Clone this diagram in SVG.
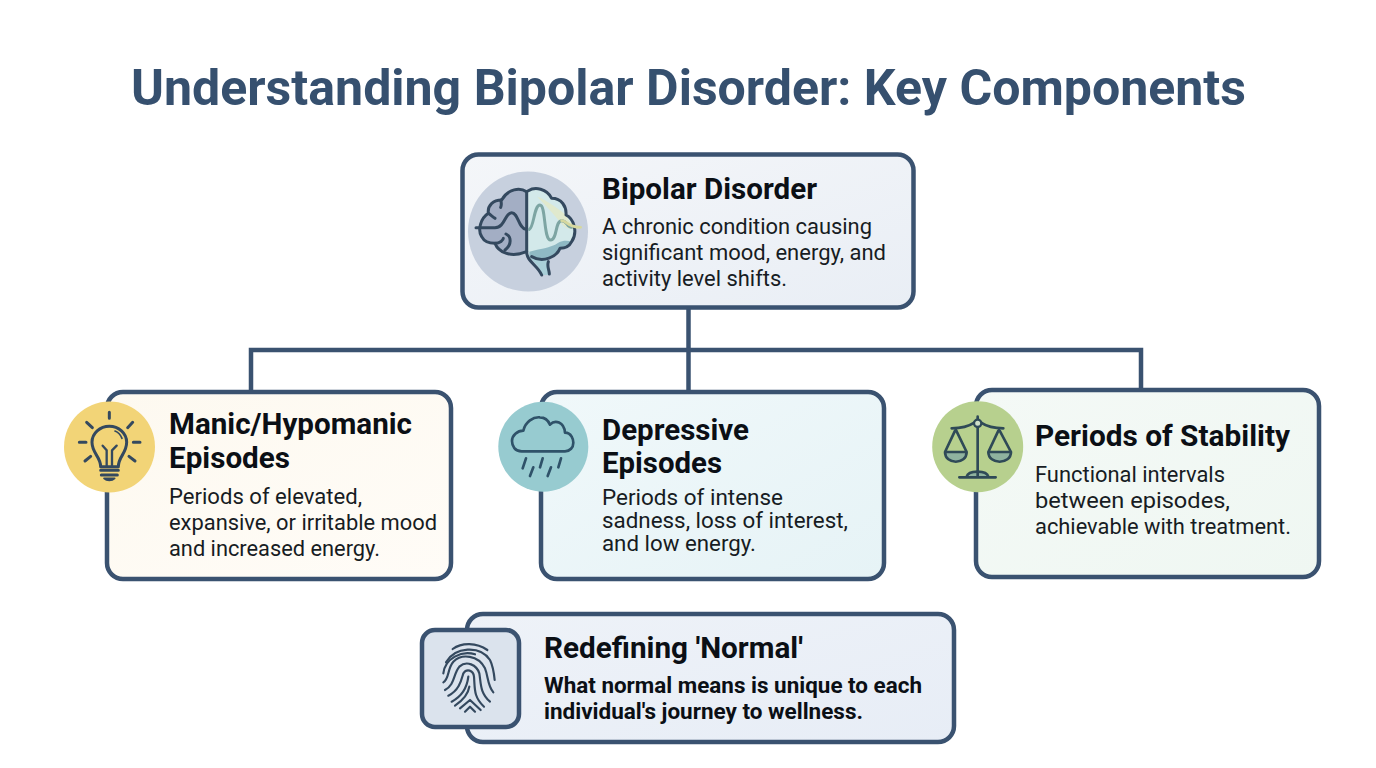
<svg xmlns="http://www.w3.org/2000/svg" width="1376" height="768" viewBox="0 0 1376 768">
<style>
text{font-family:Roboto,"Liberation Sans",sans-serif;fill:#10151c}
.title{font-size:50px;font-weight:700;fill:#36506f}
.h{font-size:30px;font-weight:700;fill:#0b0f15}
.b{font-size:22px;fill:#171c23}
.bb{font-size:22px;font-weight:700;fill:#0b0f15}
.box{stroke:#3a5270;stroke-width:4.5}
.ic{fill:none;stroke:#34495f;stroke-width:9;stroke-linecap:round;stroke-linejoin:round}
.ict{fill:none;stroke:#2f5269;stroke-width:8;stroke-linecap:round;stroke-linejoin:round}
.ics{fill:none;stroke:#2f4a57;stroke-width:8;stroke-linecap:round;stroke-linejoin:round}
.icf{fill:none;stroke:#34495f;stroke-width:6.500;stroke-linecap:round;stroke-linejoin:round}
</style>
<defs>
<linearGradient id="g0" x1="0" y1="0" x2="1" y2="1"><stop offset="0" stop-color="#f4f6f9"/><stop offset="1" stop-color="#e9eef5"/></linearGradient>
<linearGradient id="g1" x1="0" y1="0" x2="1" y2="1"><stop offset="0" stop-color="#fdf9f0"/><stop offset="1" stop-color="#fffcf7"/></linearGradient>
<linearGradient id="g2" x1="0" y1="0" x2="1" y2="1"><stop offset="0" stop-color="#f0f8fa"/><stop offset="1" stop-color="#e6f3f6"/></linearGradient>
<linearGradient id="g3" x1="0" y1="0" x2="1" y2="1"><stop offset="0" stop-color="#f4f9f6"/><stop offset="1" stop-color="#eff7f2"/></linearGradient>
<linearGradient id="g4" x1="0" y1="0" x2="1" y2="1"><stop offset="0" stop-color="#eef2f8"/><stop offset="1" stop-color="#e7edf6"/></linearGradient>
</defs>
<rect width="1376" height="768" fill="#ffffff"/>
<text class="title" x="131" y="105" textLength="1115" lengthAdjust="spacingAndGlyphs">Understanding Bipolar Disorder: Key Components</text>

<g id="connectors" fill="none" stroke="#3a5270" stroke-width="4.5">
<path d="M688.500 307V391"/>
<path d="M251 391V350H1141V391"/>
</g>

<g id="node-bipolar">
<rect class="box" x="462.500" y="154.500" width="451" height="153" rx="16" fill="url(#g0)"/>
<circle cx="528" cy="231.500" r="60" fill="#c7d0de"/>
<g transform="translate(460 150) scale(.33333)">
<path d="M200 125C180 112 145 115 125 150C100 150 82 165 85 190C62 205 52 240 65 260C75 280 95 280 105 280C115 305 150 325 200 305Z" fill="#a3aec4"/>
<path d="M205 122C225 110 260 115 275 145C305 145 320 170 318 195C340 205 355 245 335 275C325 295 310 295 300 295C290 320 250 335 205 315Z" fill="#d3e9ea"/>
<path d="M208 305C240 295 270 295 295 278C310 270 325 272 335 275C325 295 310 295 300 295C290 325 250 335 208 320Z" fill="#8fb9c4"/>
<path d="M205 320C225 340 240 350 247 375H268L262 330Z" fill="#a9cfd8"/>
<path d="M232 140C260 150 300 180 318 195C325 215 345 232 365 232C340 240 320 240 305 222C280 190 255 165 232 140Z" fill="#e6e8c0" opacity=".7"/>
<path class="ic" d="M200 125C180 112 145 115 125 150C100 150 82 165 85 190C62 205 52 240 65 260C75 280 95 280 105 280C115 305 150 325 200 305"/>
<path class="ic" d="M200 125V305C200 335 232 345 245 375"/>
<path class="ic" d="M205 122C225 110 260 115 275 145C305 145 320 170 318 195C340 205 355 245 335 275C325 295 310 295 300 295C290 320 250 340 215 320"/>
<path class="ic" d="M48 233H105C135 233 135 188 155 188C175 188 175 235 198 238"/>
<path class="ic" d="M85 190C92 195 98 200 105 205M122 150C125 160 125 165 122 172M105 280C120 280 130 270 130 265M138 252C155 260 155 285 135 300M265 335C260 350 268 360 268 372"/>
<path d="M208 238C222 232 222 165 240 165C258 165 250 270 272 270C292 270 285 212 305 212C322 212 320 232 335 232" fill="none" stroke="#7da5a3" stroke-width="9" stroke-linecap="round"/>
<path d="M305 212C322 212 320 232 362 232" fill="none" stroke="#d6d89f" stroke-width="8" stroke-linecap="round"/>
</g>
<text class="h" x="602" y="199" textLength="215" lengthAdjust="spacingAndGlyphs">Bipolar Disorder</text>
<text class="b" x="602" y="234" textLength="270" lengthAdjust="spacingAndGlyphs">A chronic condition causing</text>
<text class="b" x="602" y="260" textLength="284" lengthAdjust="spacingAndGlyphs">significant mood, energy, and</text>
<text class="b" x="602" y="286" textLength="185" lengthAdjust="spacingAndGlyphs">activity level shifts.</text>
</g>

<g id="node-manic">
<rect class="box" x="107" y="392" width="344" height="187" rx="16" fill="url(#g1)"/>
<circle cx="109.500" cy="447" r="45.500" fill="#f2d477"/>
<g transform="translate(60 385) scale(.33333)">
<path class="ic" d="M148 82V100M80 112L97 128M218 112L203 128M58 172H78M220 172H240M75 228L92 214M225 228L207 214"/>
<path class="ic" d="M122 245C122 215 96 205 96 172C96 145 120 124 148 124C176 124 200 145 200 172C200 205 175 215 175 245Z"/>
<path d="M128 182L140 196V245M170 182L156 196V245" fill="none" stroke="#34495f" stroke-width="7" stroke-linecap="round" stroke-linejoin="round"/>
<path d="M165 138C175 142 182 150 186 160" fill="none" stroke="#34495f" stroke-width="5" stroke-linecap="round"/>
<path class="ic" d="M122 256H175M124 270H172"/>
<path d="M132 280C140 288 156 288 164 280Z" fill="#34495f" stroke="#34495f" stroke-width="5" stroke-linejoin="round"/>
</g>
<text class="h" x="169" y="434" textLength="243" lengthAdjust="spacingAndGlyphs">Manic/Hypomanic</text>
<text class="h" x="169" y="468" textLength="121" lengthAdjust="spacingAndGlyphs">Episodes</text>
<text class="b" x="169" y="504" textLength="193" lengthAdjust="spacingAndGlyphs">Periods of elevated,</text>
<text class="b" x="169" y="530" textLength="268" lengthAdjust="spacingAndGlyphs">expansive, or irritable mood</text>
<text class="b" x="169" y="556" textLength="211" lengthAdjust="spacingAndGlyphs">and increased energy.</text>
</g>

<g id="node-depressive">
<rect class="box" x="541" y="392" width="343" height="187" rx="16" fill="url(#g2)"/>
<circle cx="543.300" cy="446.700" r="45" fill="#97cbd0"/>
<g transform="translate(490 390) scale(.33333)">
<path class="ict" d="M95 184C75 184 66 168 66 153C66 136 82 122 100 122C106 95 130 80 150 82C165 82 175 92 180 104C195 88 222 95 225 128C245 128 250 150 250 158C250 172 240 184 225 184Z"/>
<path class="ict" d="M108 205L98 235M158 205L150 232M213 205L205 232M130 232L120 258M183 232L173 258"/>
</g>
<text class="h" x="602" y="440" textLength="147" lengthAdjust="spacingAndGlyphs">Depressive</text>
<text class="h" x="602" y="473" textLength="120" lengthAdjust="spacingAndGlyphs">Episodes</text>
<text class="b" x="602" y="505" textLength="181" lengthAdjust="spacingAndGlyphs">Periods of intense</text>
<text class="b" x="602" y="528" textLength="246" lengthAdjust="spacingAndGlyphs">sadness, loss of interest,</text>
<text class="b" x="602" y="551" textLength="154" lengthAdjust="spacingAndGlyphs">and low energy.</text>
</g>

<g id="node-stability">
<rect class="box" x="976" y="390" width="343" height="187" rx="16" fill="url(#g3)"/>
<circle cx="977.700" cy="446.700" r="45.500" fill="#b7d08e"/>
<g transform="translate(925 390) scale(.33333)">
<path d="M60 186H125C125 225 60 225 60 186ZM190 186H258C258 225 190 225 190 186ZM125 260C130 240 185 240 190 260Z" fill="#8fb39f"/>
<path class="ics" d="M158 80V260M80 115C105 115 130 110 148 98M168 98C186 110 210 115 235 115"/>
<path class="ics" d="M92 118L60 186H125L92 118M60 186C60 225 125 225 125 186"/>
<path class="ics" d="M222 118L190 186H258L222 118M190 186C190 225 258 225 258 186"/>
<path class="ics" d="M103 262H212M125 260C130 240 185 240 190 260"/>
<circle cx="158" cy="100" r="11" fill="#cfe0c8" stroke="#2f4a57" stroke-width="7"/>
</g>
<text class="h" x="1035" y="446" textLength="255" lengthAdjust="spacingAndGlyphs">Periods of Stability</text>
<text class="b" x="1035" y="482" textLength="190" lengthAdjust="spacingAndGlyphs">Functional intervals</text>
<text class="b" x="1035" y="508" textLength="195" lengthAdjust="spacingAndGlyphs">between episodes,</text>
<text class="b" x="1035" y="534" textLength="256" lengthAdjust="spacingAndGlyphs">achievable with treatment.</text>
</g>

<g id="node-normal">
<rect class="box" x="467" y="614" width="487" height="128" rx="16" fill="url(#g4)"/>
<rect class="box" x="422" y="630" width="97" height="97" rx="13" fill="#dbe3ed"/>
<g class="icf" transform="translate(410 605) scale(.33333)">
<path d="M128 132C155 112 200 112 232 135"/>
<path d="M108 172C135 125 210 120 240 165C250 185 252 205 254 225"/>
<path d="M100 205C105 160 155 135 195 148"/>
<path d="M100 232C118 222 112 190 130 170C155 145 205 150 225 190C235 215 232 240 250 262"/>
<path d="M105 255C135 240 130 205 148 185C170 165 200 180 208 205C213 235 210 265 240 290"/>
<path d="M115 272C150 255 155 220 160 205C170 190 190 195 192 215C195 250 190 275 222 305"/>
<path d="M125 290C160 272 172 240 175 215"/>
<path d="M178 245C175 265 160 285 135 302"/>
<path d="M150 310L180 285L212 315M165 320L180 305L195 320"/>
</g>
<text class="h" x="544" y="658" textLength="259" lengthAdjust="spacingAndGlyphs">Redefining 'Normal'</text>
<text class="bb" x="544" y="693" textLength="378" lengthAdjust="spacingAndGlyphs">What normal means is unique to each</text>
<text class="bb" x="544" y="719" textLength="319" lengthAdjust="spacingAndGlyphs">individual's journey to wellness.</text>
</g>
</svg>
